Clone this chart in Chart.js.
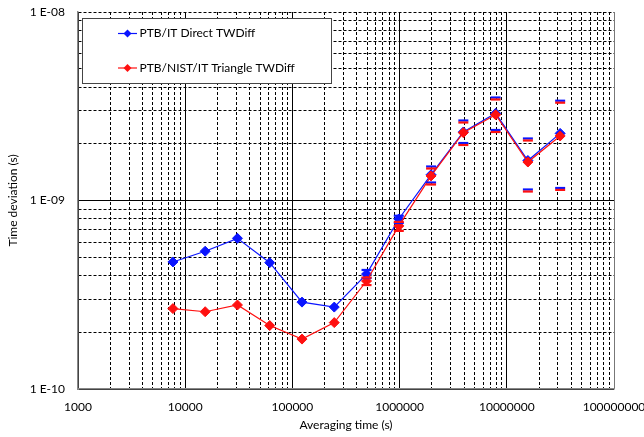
<!DOCTYPE html>
<html>
<head>
<meta charset="utf-8">
<script src="https://cdn.jsdelivr.net/npm/chart.js@4/dist/chart.umd.min.js"></script>
<style>
  body { margin: 0; background: #fff; }
  canvas { display: block; }
</style>
</head>
<body>
<canvas id="myChart" width="644" height="437"></canvas>
<script>
// averaging times (s)
const taus = [7680, 15360, 30720, 61440, 122880, 245760, 491520, 983040, 1966080, 3932160, 7864320, 15728640, 31457280];

// PTB/IT Direct TWDiff
const directDev = [4.72e-10, 5.38e-10, 6.30e-10, 4.68e-10, 2.89e-10, 2.72e-10, 4.07e-10, 7.98e-10, 1.37e-9, 2.31e-9, 2.90e-9, 1.63e-9, 2.27e-9];
const directHi = [null, null, null, null, null, null, 4.28e-10, 8.3e-10, 1.515e-9, 2.657e-9, 3.518e-9, 2.133e-9, 3.383e-9];
const directLo = [null, null, null, null, null, null, 3.88e-10, 7.6e-10, 1.246e-9, 2.018e-9, 2.366e-9, 1.144e-9, 1.165e-9];

// PTB/NIST/IT Triangle TWDiff
const triangleDev = [2.67e-10, 2.57e-10, 2.79e-10, 2.17e-10, 1.84e-10, 2.25e-10, 3.74e-10, 7.33e-10, 1.35e-9, 2.29e-9, 2.85e-9, 1.60e-9, 2.20e-9];
const triangleHi = [null, null, null, null, null, null, 3.9e-10, 7.7e-10, 1.478e-9, 2.593e-9, 3.435e-9, 2.081e-9, 3.303e-9];
const triangleLo = [null, null, null, null, null, null, 3.56e-10, 6.9e-10, 1.216e-9, 1.970e-9, 2.309e-9, 1.116e-9, 1.138e-9];

const seriesNames = ['PTB/IT Direct TWDiff', 'PTB/NIST/IT Triangle TWDiff'];
const xTitle = 'Averaging time (s)';
const yTitle = 'Time deviation (s)';

// axis ranges as decade exponents
const xDecades = [3, 8];
const yDecades = [-10, -8];

const blue = '#0a14ff';
const red = '#ff1010';
const fontFamily = 'Lato, "Open Sans", sans-serif';

const pts = (ys) => taus.map((t, i) => ({ x: t, y: ys[i] })).filter(p => p.y !== null);

const logTicks = (from, to) => {
    const out = [];
    for (let d = from; d < to; d++) {
        for (let m = 1; m <= 9; m++) out.push(m * Math.pow(10, d));
    }
    out.push(Math.pow(10, to));
    return out;
};
const isDecade = (v) => Math.abs(Math.log10(v) - Math.round(Math.log10(v))) < 1e-6;

const barSet = (data, color, order) => ({
    data: pts(data),
    showLine: false,
    pointStyle: 'line',
    pointRadius: 5,
    pointHoverRadius: 5,
    borderColor: color,
    backgroundColor: color,
    borderWidth: 2.2,
    order: order
});

// legend box drawn inside the plot
const insideLegend = {
    id: 'insideLegend',
    afterDraw(chart) {
        const c = chart.ctx;
        const colors = [blue, red];
        c.save();
        c.fillStyle = '#fff';
        c.fillRect(82, 18, 250, 65);
        c.strokeStyle = '#444';
        c.lineWidth = 1;
        c.strokeRect(82.5, 18.5, 249, 65);
        seriesNames.forEach((name, i) => {
            const y = 33.5 + i * 34.5;
            c.strokeStyle = colors[i];
            c.lineWidth = 1.2;
            c.beginPath();
            c.moveTo(118, y);
            c.lineTo(137, y);
            c.stroke();
            c.fillStyle = colors[i];
            c.beginPath();
            c.moveTo(127.5, y - 4);
            c.lineTo(131.5, y);
            c.lineTo(127.5, y + 4);
            c.lineTo(123.5, y);
            c.closePath();
            c.fill();
            c.fillStyle = '#000';
            c.font = '12px ' + fontFamily;
            c.textBaseline = 'middle';
            c.fillText(name, 139.5, y);
        });
        c.restore();
    }
};

const ctx = document.getElementById('myChart').getContext('2d');
const chart = new Chart(ctx, {
    type: 'line',
    data: {
        datasets: [
            barSet(triangleHi, red, 1),
            barSet(triangleLo, red, 1),
            barSet(directHi, blue, 2),
            barSet(directLo, blue, 2),
            {
                label: seriesNames[1],
                data: pts(triangleDev),
                borderColor: red,
                backgroundColor: red,
                borderWidth: 1.2,
                pointStyle: 'rectRot',
                pointRadius: 5,
                pointBorderWidth: 1,
                order: 3
            },
            {
                label: seriesNames[0],
                data: pts(directDev),
                borderColor: blue,
                backgroundColor: blue,
                borderWidth: 1.2,
                pointStyle: 'rectRot',
                pointRadius: 5,
                pointBorderWidth: 1,
                order: 4
            }
        ]
    },
    options: {
        responsive: false,
        animation: false,
        devicePixelRatio: 1,
        layout: { padding: { top: 12, right: 30, left: 0, bottom: 0 } },
        plugins: {
            legend: { display: false },
            tooltip: { enabled: false }
        },
        scales: {
            x: {
                type: 'logarithmic',
                min: Math.pow(10, xDecades[0]),
                max: Math.pow(10, xDecades[1]),
                afterBuildTicks: (s) => { s.ticks = logTicks(xDecades[0], xDecades[1]).map(v => ({ value: v })); },
                afterFit: (s) => { s.height = 48; s.paddingLeft = 0; s.paddingRight = 0; },
                ticks: {
                    autoSkip: false,
                    maxRotation: 0,
                    padding: 11,
                    color: '#000',
                    font: { family: fontFamily, size: 12 },
                    callback: (v) => isDecade(v) ? Math.round(v).toFixed(0) : ''
                },
                grid: {
                    drawTicks: false,
                    lineWidth: 1,
                    color: (c) => (c.tick && Math.abs(c.tick.value - Math.pow(10, xDecades[1])) < 1) ? '#777' : '#000'
                },
                border: {
                    display: true,
                    color: '#888',
                    width: 1.5,
                    dash: (c) => (c.tick && !isDecade(c.tick.value)) ? [3, 2] : []
                },
                title: {
                    display: true,
                    text: xTitle,
                    color: '#000',
                    font: { family: fontFamily, size: 12 },
                    padding: { top: 0, bottom: 5 }
                }
            },
            y: {
                type: 'logarithmic',
                min: Math.pow(10, yDecades[0]),
                max: Math.pow(10, yDecades[1]),
                afterBuildTicks: (s) => { s.ticks = logTicks(yDecades[0], yDecades[1]).map(v => ({ value: v })); },
                afterFit: (s) => { s.width = 78; s.paddingTop = 0; s.paddingBottom = 0; },
                ticks: {
                    autoSkip: false,
                    padding: 13,
                    color: '#000',
                    font: { family: fontFamily, size: 12 },
                    callback: (v) => {
                        if (!isDecade(v)) return '';
                        const e = Math.round(Math.log10(v));
                        return '1 E' + (e < 0 ? '-' : '+') + String(Math.abs(e)).padStart(2, '0');
                    }
                },
                grid: {
                    drawTicks: false,
                    lineWidth: 1,
                    color: '#000'
                },
                border: {
                    display: true,
                    color: '#888',
                    width: 1.5,
                    dash: (c) => (c.tick && (!isDecade(c.tick.value) || Math.round(Math.log10(c.tick.value)) === yDecades[1])) ? [3, 2] : []
                },
                title: {
                    display: true,
                    text: yTitle,
                    color: '#000',
                    font: { family: fontFamily, size: 12 },
                    padding: { top: 6, bottom: 0 }
                }
            }
        }
    },
    plugins: [insideLegend]
});
</script>
</body>
</html>
